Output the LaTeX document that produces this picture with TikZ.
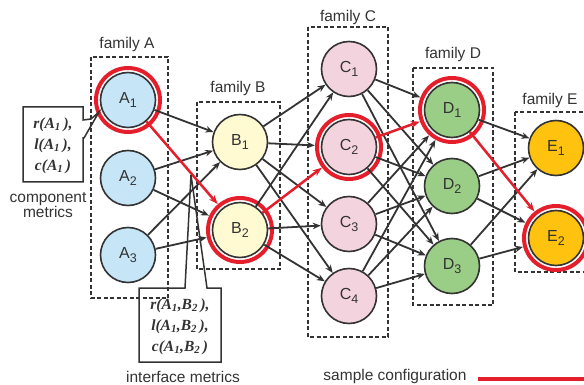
\documentclass[tikz,border=0pt]{standalone}
\usepackage{fontspec}
\setmainfont{Liberation Sans}
\newfontfamily\metfont{Liberation Serif}
\usetikzlibrary{arrows.meta}
\definecolor{dgray}{HTML}{333333}
\definecolor{cred}{HTML}{E41E2B}
\definecolor{fa}{HTML}{C6E6F8}
\definecolor{fb}{HTML}{FFFAD2}
\definecolor{fc}{HTML}{F3D3DD}
\definecolor{fd}{HTML}{9ACD85}
\definecolor{fe}{HTML}{FFC20E}
\newcommand{\nsub}[1]{\raisebox{-0.45ex}{\fontsize{12.5}{12.5}\selectfont #1}}
\begin{document}
\begin{tikzpicture}[x=1pt,y=-1pt,
  comp/.style={circle, draw=dgray, line width=1.6pt, minimum size=55pt, inner sep=0pt,
    font=\fontsize{16}{16}\selectfont, text=dgray},
  fam/.style={draw=dgray, line width=1.3pt, dash pattern=on 4pt off 2.5pt},
  famlabel/.style={font=\fontsize{15.5}{16}\selectfont, text=dgray},
  lbl/.style={font=\fontsize{15.5}{16}\selectfont, text=dgray, align=center},
  edge/.style={draw=dgray, line width=1.8pt, -{Stealth[length=8pt,width=6.5pt]}},
  sel/.style={draw=cred, line width=2.5pt, -{Stealth[length=9pt,width=7pt]}},
  ring/.style={draw=cred, line width=4pt},
  tor/.style={shorten >=6pt},
  met/.style={font=\metfont\bfseries\itshape\fontsize{15.5}{21}\selectfont, text=dgray, align=center},
  metbox/.style={draw=dgray, line width=1.5pt, line join=miter}
]
\useasboundingbox (0,0) rectangle (584,385);
\clip (0,0) rectangle (584,385);

% family boxes
\draw[fam] (91,57) rectangle (168,298);
\draw[fam] (197,102) rectangle (280,269);
\draw[fam] (308,27) rectangle (388,337);
\draw[fam] (413,68) rectangle (493,305);
\draw[fam] (515,112) rectangle (600,272);

\node[famlabel] (la) at (127,44) {family A};
\node[famlabel] (lb) at (238,88) {family B};
\node[famlabel] (lc) at (348,17) {family C};
\node[famlabel] (ld) at (453,54) {family D};
\node[famlabel] (le) at (550,100) {family E};

% nodes
\node[comp, fill=fa] (A1) at (128,100) {A\nsub{1}};
\node[comp, fill=fa] (A2) at (128,178) {A\nsub{2}};
\node[comp, fill=fa] (A3) at (128,255) {A\nsub{3}};
\node[comp, fill=fb] (B1) at (240,142) {B\nsub{1}};
\node[comp, fill=fb] (B2) at (240,230) {B\nsub{2}};
\node[comp, fill=fc] (C1) at (349,69) {C\nsub{1}};
\node[comp, fill=fc] (C2) at (349,147) {C\nsub{2}};
\node[comp, fill=fc] (C3) at (349,224) {C\nsub{3}};
\node[comp, fill=fc] (C4) at (349,296) {C\nsub{4}};
\node[comp, fill=fd] (D1) at (452,110) {D\nsub{1}};
\node[comp, fill=fd] (D2) at (452,186) {D\nsub{2}};
\node[comp, fill=fd] (D3) at (452,266) {D\nsub{3}};
\node[comp, fill=fe] (E1) at (556,148) {E\nsub{1}};
\node[comp, fill=fe] (E2) at (556,238) {E\nsub{2}};

% rings
\foreach \n in {A1,B2,C2,D1,E2} \draw[ring] (\n) circle[radius=32];

% black edges
\draw[edge] (A1) -- (B1);
\draw[edge] (A2) -- (B1);
\draw[edge,tor] (A2) -- (B2);
\draw[edge] (A3) -- (B1);
\draw[edge,tor] (A3) -- (B2);

\draw[edge] (B1) -- (C1);
\draw[edge,tor] (B1) -- (C2);
\draw[edge] (B1) -- (C3);
\draw[edge] (B1) -- (C4);
\draw[edge] (B2) -- (C1);
\draw[edge] (B2) -- (C3);
\draw[edge] (B2) -- (C4);

\foreach \c in {C1,C3,C4} {
  \draw[edge,tor] (\c) -- (D1);
  \draw[edge] (\c) -- (D2);
  \draw[edge] (\c) -- (D3);
}
\draw[edge] (C2) -- (D2);
\draw[edge] (C2) -- (D3);

\draw[edge] (D1) -- (E1);
\draw[edge] (D2) -- (E1);
\draw[edge,tor] (D2) -- (E2);
\draw[edge] (D3) -- (E1);
\draw[edge,tor] (D3) -- (E2);

% sample configuration edges
\draw[sel,tor] (A1) -- (B2);
\draw[sel,tor] (B2) -- (C2);
\draw[sel,tor] (C2) -- (D1);
\draw[sel,tor] (D1) -- (E2);

% component metrics box
\draw[metbox] (23,107) -- (83,107) -- (83,120) -- (91,119) -- (99,112) -- (84,138) -- (83,138) -- (83,182) -- (23,182) -- cycle;
\node[met] (cm) at (53,146) {r(A\textsubscript{1}\,),\\ l(A\textsubscript{1}\,),\\ c(A\textsubscript{1}\,)};
\node[lbl] (cml) at (48,205) {component\\[-1pt]metrics};

% interface metrics box
\draw[metbox] (139,288) -- (185,288) -- (191,175) -- (207,288) -- (221,288) -- (221,362) -- (139,362) -- cycle;
\node[met] (im) at (180,327) {r(A\textsubscript{1},B\textsubscript{2}\,),\\ l(A\textsubscript{1},B\textsubscript{2}\,),\\ c(A\textsubscript{1},B\textsubscript{2}\,)};
\node[lbl] (iml) at (183,377) {interface metrics};

% legend
\node[lbl] (sc) at (395,376) {sample configuration};
\coordinate (l1) at (478,379);
\coordinate (l2) at (584,379);
\draw[cred, line width=4pt] (l1) -- (l2);
\end{tikzpicture}
\end{document}
